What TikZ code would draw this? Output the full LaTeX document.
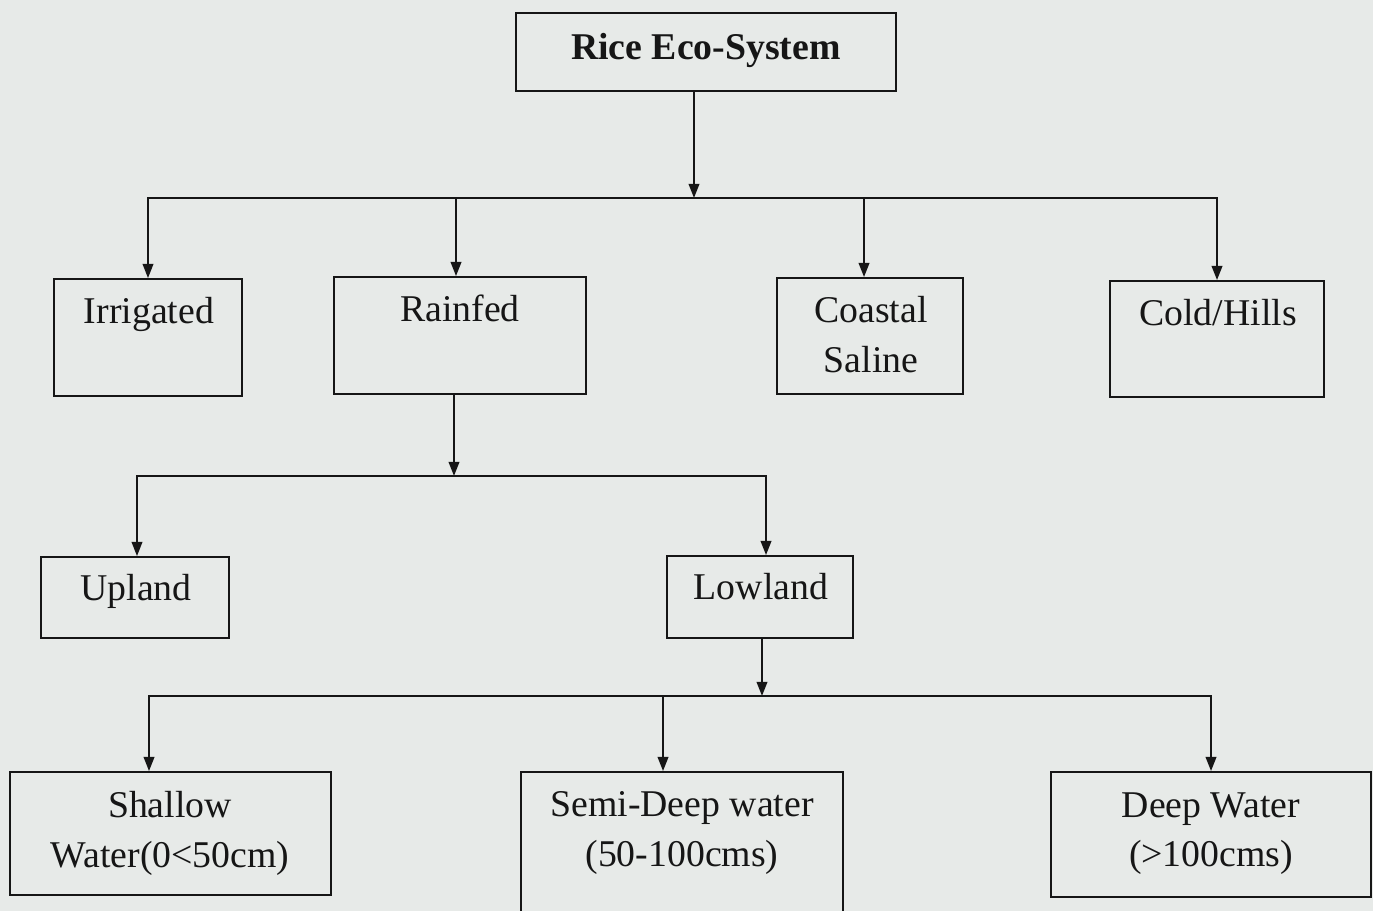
\documentclass[tikz,border=0pt]{standalone}
\usepackage{fontspec}
\setmainfont{Liberation Serif}
\usetikzlibrary{arrows.meta, positioning}
\definecolor{paper}{RGB}{231,234,232}
\definecolor{ink}{RGB}{22,22,22}

\begin{document}
\begin{tikzpicture}[x=0.02cm, y=-0.02cm,
    box/.style = {draw=ink, line width=1.1pt, inner sep=0pt},
    txt/.style = {inner sep=0pt, align=center, text=ink,
                  font=\fontsize{21.5pt}{28.35pt}\selectfont},
    arr/.style = {draw=ink, line width=1.1pt, -{Triangle[length=8pt,width=6pt]}}]
      \fill[paper] (0,0) rectangle (1373,911);
      \useasboundingbox (0,0) rectangle (1373,911);
      \clip (0,0) rectangle (1373,911);

      \node[box, minimum width=7.6cm, minimum height=1.56cm] (rice) at (706,52) {};
      \node[box, minimum width=3.76cm, minimum height=2.34cm] (irr) at (148,337.5) {};
      \node[box, minimum width=5.04cm, minimum height=2.34cm] (rain) at (460,335.5) {};
      \node[box, minimum width=3.72cm, minimum height=2.32cm] (coast) at (870,336) {};
      \node[box, minimum width=4.28cm, minimum height=2.32cm] (cold) at (1217,339) {};
      \node[box, minimum width=3.76cm, minimum height=1.62cm] (upl) at (135,597.5) {};
      \node[box, minimum width=3.72cm, minimum height=1.64cm] (low) at (760,597) {};
      \node[box, minimum width=6.42cm, minimum height=2.46cm] (shal) at (170.5,833.5) {};
      \node[box, minimum width=6.44cm, minimum height=3.06cm] (semi) at (682,848.5) {};
      \node[box, minimum width=6.4cm, minimum height=2.5cm] (deep) at (1211,834.5) {};

      \node[txt, anchor=base, font=\fontsize{21.5pt}{28.35pt}\selectfont\bfseries] (rice-t) at (706,60) {Rice Eco-System};
      \node[txt, anchor=base] (irr-t) at (149,324) {Irrigated};
      \node[txt, anchor=base] (rain-t) at (460,322) {Rainfed};
      \node[txt, anchor=north] (coast-t) at (871,296) {Coastal\\Saline};
      \node[txt, anchor=base] (cold-t) at (1218,326) {Cold/Hills};
      \node[txt, anchor=base] (upl-t) at (136,601) {Upland};
      \node[txt, anchor=base] (low-t) at (761,600) {Lowland};
      \node[txt, anchor=north] (shal-t) at (170,791) {Shallow\\Water(0<50cm)};
      \node[txt, anchor=north] (semi-t) at (682,791) {Semi-Deep water\\(50-100cms)};
      \node[txt, anchor=north] (deep-t) at (1211,792) {Deep Water\\(>100cms)};

      \coordinate (bus1) at (694,198);
      \coordinate (bus2) at (454,476);
      \coordinate (bus3) at (762,696);

      \draw[arr] (rice.south -| bus1) -- (bus1);
      \draw[arr] (bus1) -| (irr.north);
      \draw[arr] (bus1) -| ([xshift=-0.08cm]rain.north);
      \draw[arr] (bus1) -| ([xshift=-0.12cm]coast.north);
      \draw[arr] (bus1) -| (cold.north);

      \draw[arr] (rain.south -| bus2) -- (bus2);
      \draw[arr] (bus2) -| ([xshift=0.04cm]upl.north);
      \draw[arr] (bus2) -| ([xshift=0.12cm]low.north);

      \draw[arr] (low.south -| bus3) -- (bus3);
      \draw[arr] (bus3) -| ([xshift=-0.43cm]shal.north);
      \draw[arr] (bus3) -| ([xshift=-0.38cm]semi.north);
      \draw[arr] (bus3) -| (deep.north);
    \end{tikzpicture}
\end{document}
